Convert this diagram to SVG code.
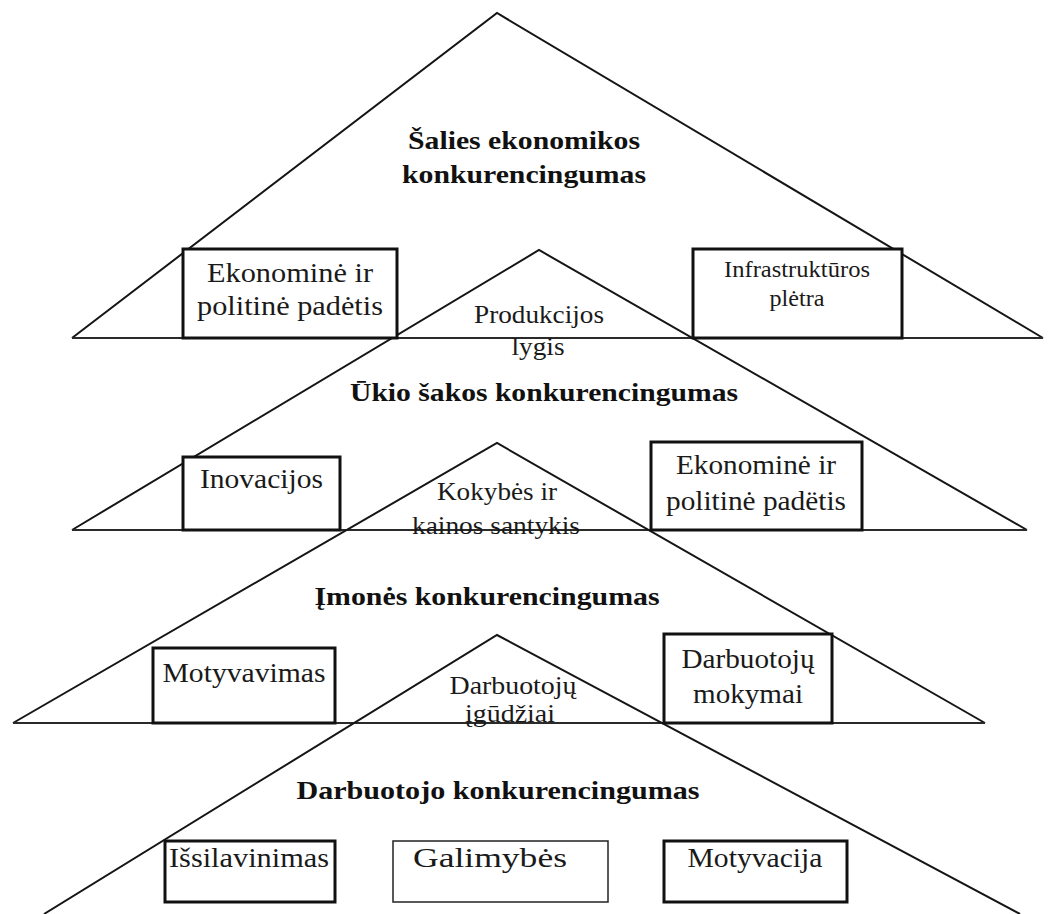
<svg xmlns="http://www.w3.org/2000/svg" width="1054" height="914" viewBox="0 0 1054 914">
<style>
.tri{fill:none;stroke:#151515;stroke-width:2;stroke-linejoin:miter}
.base{fill:none;stroke:#2a2a2a;stroke-width:2}
.box{fill:#fff;stroke:#111;stroke-width:3}
.boxthin{fill:#fff;stroke:#222;stroke-width:1.5}
.h{font-family:"Liberation Serif","Times New Roman",serif;font-weight:bold;font-size:25px;fill:#111;text-anchor:middle}
.t{font-family:"Liberation Serif","Times New Roman",serif;font-size:28px;fill:#1a1a1a;text-anchor:middle}
.s{font-family:"Liberation Serif","Times New Roman",serif;font-size:23px;fill:#1a1a1a;text-anchor:middle}
.i{font-family:"Liberation Serif","Times New Roman",serif;font-size:26px;fill:#1a1a1a;text-anchor:middle}
</style>
<rect width="1054" height="914" fill="#fff"/>

<g id="level-salies">
<polyline class="tri" points="72,338 497,13 1043,338"/>
<line class="base" x1="72" y1="338" x2="1043" y2="338"/>
</g>
<g id="level-ukio">
<polyline class="tri" points="72,530 539,250 1027,530"/>
<line class="base" x1="72" y1="530" x2="1027" y2="530"/>
</g>
<g id="level-imones">
<polyline class="tri" points="13,723 497,443 985,723"/>
<line class="base" x1="13" y1="723" x2="985" y2="723"/>
</g>
<g id="level-darbuotojo">
<polyline class="tri" points="44,914 497,635 1020,914"/>
</g>

<g id="title-salies">
<text class="h" x="524" y="149" textLength="232" lengthAdjust="spacingAndGlyphs">Šalies ekonomikos</text>
<text class="h" x="524" y="183" textLength="244" lengthAdjust="spacingAndGlyphs">konkurencingumas</text>
</g>
<g id="box-ekon1">
<rect class="box" x="183" y="249" width="214" height="89"/>
<text class="t" x="290" y="282" textLength="166" lengthAdjust="spacingAndGlyphs">Ekonominė ir</text>
<text class="t" x="290" y="315" textLength="186" lengthAdjust="spacingAndGlyphs">politinė padėtis</text>
</g>
<g id="box-infra">
<rect class="box" x="693" y="249" width="209" height="89"/>
<text class="s" x="797" y="277" textLength="146" lengthAdjust="spacingAndGlyphs">Infrastruktūros</text>
<text class="s" x="797" y="306" textLength="55" lengthAdjust="spacingAndGlyphs">plėtra</text>
</g>
<g id="label-produkcijos">
<text class="i" x="539" y="323" textLength="130" lengthAdjust="spacingAndGlyphs">Produkcijos</text>
<text class="i" x="538" y="355" textLength="53" lengthAdjust="spacingAndGlyphs">lygis</text>
</g>

<g id="title-ukio">
<text class="h" x="544" y="401" textLength="388" lengthAdjust="spacingAndGlyphs">Ūkio šakos konkurencingumas</text>
</g>
<g id="box-inovacijos">
<rect class="box" x="183" y="457" width="157" height="73"/>
<text class="t" x="261.5" y="488" textLength="123" lengthAdjust="spacingAndGlyphs">Inovacijos</text>
</g>
<g id="box-ekon2">
<rect class="box" x="651" y="442" width="211" height="88"/>
<text class="t" x="756" y="474" textLength="160" lengthAdjust="spacingAndGlyphs">Ekonominė ir</text>
<text class="t" x="756" y="510" textLength="180" lengthAdjust="spacingAndGlyphs">politinė padëtis</text>
</g>
<g id="label-kokybes">
<text class="i" x="497" y="500" textLength="120" lengthAdjust="spacingAndGlyphs">Kokybės ir</text>
<text class="i" x="496" y="534" textLength="168" lengthAdjust="spacingAndGlyphs">kainos santykis</text>
</g>

<g id="title-imones">
<text class="h" x="487" y="605" textLength="345" lengthAdjust="spacingAndGlyphs">Įmonės konkurencingumas</text>
</g>
<g id="box-motyvavimas">
<rect class="box" x="153" y="648" width="182" height="75"/>
<text class="t" x="244" y="682" textLength="163" lengthAdjust="spacingAndGlyphs">Motyvavimas</text>
</g>
<g id="box-mokymai">
<rect class="box" x="664" y="634" width="168" height="89"/>
<text class="t" x="748" y="668" textLength="133" lengthAdjust="spacingAndGlyphs">Darbuotojų</text>
<text class="t" x="748" y="703" textLength="110" lengthAdjust="spacingAndGlyphs">mokymai</text>
</g>
<g id="label-igudziai">
<text class="i" x="513" y="694" textLength="127" lengthAdjust="spacingAndGlyphs">Darbuotojų</text>
<text class="i" x="510" y="722" textLength="90" lengthAdjust="spacingAndGlyphs">įgūdžiai</text>
</g>

<g id="title-darbuotojo">
<text class="h" x="498" y="799" textLength="403" lengthAdjust="spacingAndGlyphs">Darbuotojo konkurencingumas</text>
</g>
<g id="box-issilavinimas">
<rect class="box" x="165" y="841" width="170" height="61"/>
<text class="t" x="249" y="867" textLength="160" lengthAdjust="spacingAndGlyphs">Išsilavinimas</text>
</g>
<g id="box-galimybes">
<rect class="boxthin" x="393" y="841" width="215" height="61"/>
<text class="t" x="490" y="867" textLength="154" lengthAdjust="spacingAndGlyphs">Galimybės</text>
</g>
<g id="box-motyvacija">
<rect class="box" x="664" y="841" width="183" height="61"/>
<text class="t" x="755" y="867" textLength="135" lengthAdjust="spacingAndGlyphs">Motyvacija</text>
</g>
</svg>
